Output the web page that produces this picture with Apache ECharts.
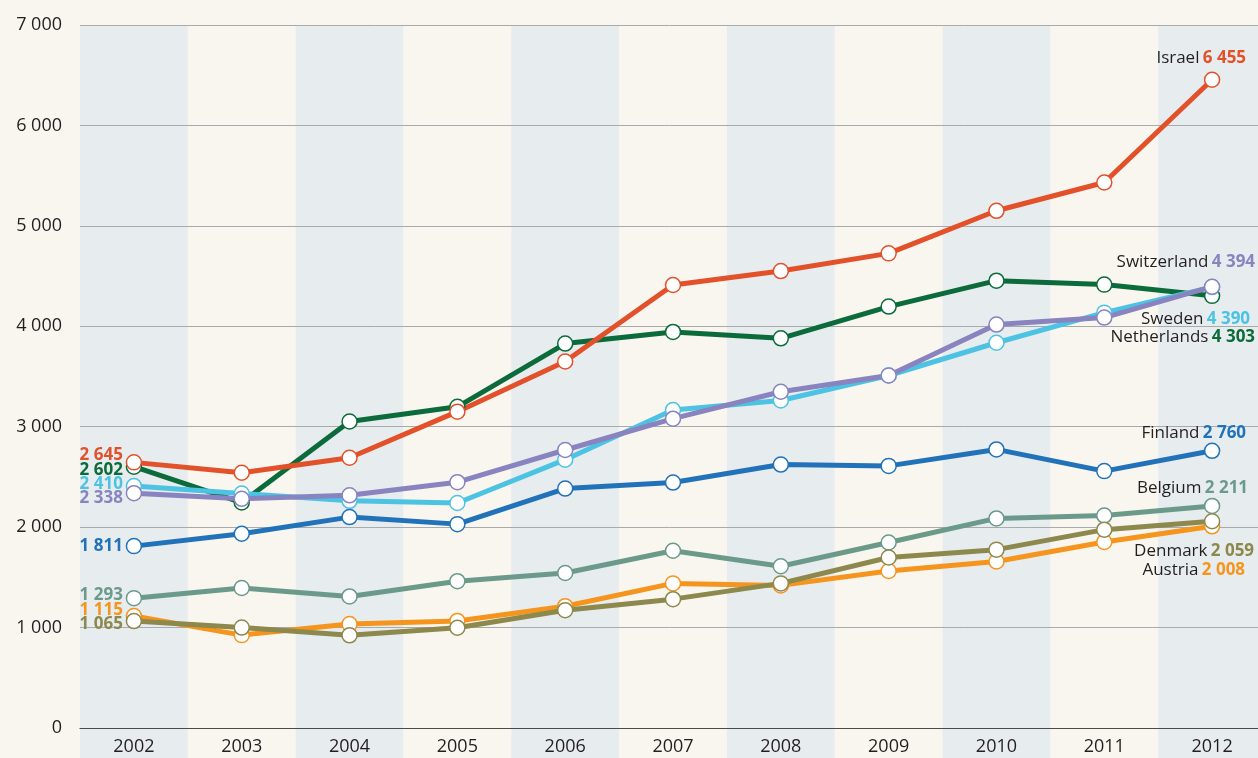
<!DOCTYPE html>
<html>
<head>
<meta charset="utf-8">
<style>
  html, body { margin: 0; padding: 0; background: #f9f6ef; }
  #chart { width: 1258px; height: 758px; }
</style>
<script src="https://cdn.jsdelivr.net/npm/echarts@6/dist/echarts.min.js"></script>
</head>
<body>
<div id="chart"></div>
<script>
// years on the x axis
var years = ['2002', '2003', '2004', '2005', '2006', '2007', '2008', '2009', '2010', '2011', '2012'];

// values
var israel      = [2645, 2542, 2691, 3150, 3649, 4411, 4550, 4726, 5150, 5432, 6455];
var netherlands = [2602, 2245, 3052, 3198, 3828, 3944, 3880, 4196, 4454, 4415, 4303];
var sweden      = [2410, 2335, 2262, 2240, 2672, 3166, 3261, 3510, 3836, 4136, 4390];
var switzerland = [2338, 2282, 2317, 2448, 2768, 3080, 3348, 3510, 4017, 4087, 4394];
var finland     = [1811, 1934, 2100, 2030, 2384, 2444, 2623, 2610, 2774, 2558, 2760];
var belgium     = [1293, 1394, 1310, 1462, 1543, 1765, 1611, 1847, 2087, 2115, 2211];
var austria     = [1115, 925, 1035, 1066, 1213, 1440, 1420, 1563, 1658, 1852, 2008];
var denmark     = [1065, 1000, 923, 998, 1173, 1283, 1440, 1698, 1776, 1975, 2059];

var FONT = '"Open Sans", "Noto Sans", sans-serif';
var INK = '#231f20';

// name, data, colour, left label offset, right label offset
var countries = [
  { name: 'Netherlands', data: netherlands, color: '#0b6b3a', first: [-11, 3],  last: [43, 41] },
  { name: 'Israel',      data: israel,      color: '#e2512a', first: [-11, -7], last: [34, -22] },
  { name: 'Sweden',      data: sweden,      color: '#4cc3e3', first: [-11, -2], last: [38, 32] },
  { name: 'Switzerland', data: switzerland, color: '#8983bf', first: [-11, 5],  last: [43, -25] },
  { name: 'Finland',     data: finland,     color: '#2272b9', first: [-11, 0],  last: [34, -18] },
  { name: 'Belgium',     data: belgium,     color: '#6c9a8a', first: [-11, -3], last: [36, -18] },
  { name: 'Austria',     data: austria,     color: '#f5951e', first: [-11, -6], last: [33, 44] },
  { name: 'Denmark',     data: denmark,     color: '#8d884c', first: [-11, 3],  last: [42, 30] }
];

function fmt(v) {
  return String(v).replace(/\B(?=(\d{3})+(?!\d))/g, ' ');
}

function buildSeries(c) {
  var n = c.data.length;
  var items = c.data.map(function (v, i) {
    if (i === 0) {
      return {
        value: v,
        label: {
          show: true, position: 'inside', align: 'right', verticalAlign: 'middle',
          offset: c.first, formatter: fmt(v),
          color: c.color, fontWeight: 'bold', fontSize: 17, fontFamily: FONT
        }
      };
    }
    if (i === n - 1) {
      return {
        value: v,
        label: {
          show: true, position: 'inside', align: 'right', verticalAlign: 'middle',
          offset: c.last,
          formatter: '{n|' + c.name + '} {v|' + fmt(v) + '}',
          rich: {
            n: { color: INK, fontSize: 17, fontFamily: FONT },
            v: { color: c.color, fontSize: 17, fontWeight: 'bold', fontFamily: FONT }
          }
        }
      };
    }
    return v;
  });
  return {
    name: c.name,
    type: 'line',
    xAxisIndex: 0,
    yAxisIndex: 0,
    data: items,
    symbol: 'circle',
    symbolSize: 15,
    showSymbol: true,
    lineStyle: { color: c.color, width: 5 },
    itemStyle: { color: '#ffffff', borderColor: c.color, borderWidth: 1.5 },
    emphasis: { disabled: true },
    z: 3
  };
}

var chart = echarts.init(document.getElementById('chart'), null, { renderer: 'canvas' });

chart.setOption({
  animation: false,
  backgroundColor: '#f9f6ef',
  grid: [
    { left: 80, width: 1186, top: 25, bottom: 30, outerBoundsMode: 'none', containLabel: false },
    { left: 80, width: 1186, top: 25, bottom: 0, outerBoundsMode: 'none', containLabel: false }
  ],
  xAxis: [
    {
      gridIndex: 0,
      type: 'category',
      data: years,
      boundaryGap: true,
      axisLine: { show: true, lineStyle: { color: '#4a4a4a', width: 1.2 } },
      axisTick: { show: false },
      axisLabel: { color: INK, fontSize: 18, fontFamily: FONT, margin: 10 },
      splitLine: { show: false },
      z: 2
    },
    {
      gridIndex: 1,
      type: 'category',
      data: years,
      boundaryGap: true,
      axisLine: { show: false },
      axisTick: { show: false },
      axisLabel: { show: false },
      splitLine: { show: false },
      splitArea: { show: true, areaStyle: { color: ['#e7ecef', '#f9f6ef'] } },
      z: 0
    }
  ],
  yAxis: [
    {
      gridIndex: 0,
      type: 'value',
      min: 0,
      max: 7000,
      interval: 1000,
      axisLine: { show: false },
      axisTick: { show: false },
      axisLabel: { color: INK, fontSize: 18, fontFamily: FONT, margin: 18, formatter: fmt },
      splitLine: { show: true, lineStyle: { color: '#a9aaab', width: 1 } },
      z: 1
    },
    {
      gridIndex: 1,
      type: 'value',
      min: 0,
      max: 1,
      show: false
    }
  ],
  series: countries.map(buildSeries)
});
</script>
</body>
</html>
